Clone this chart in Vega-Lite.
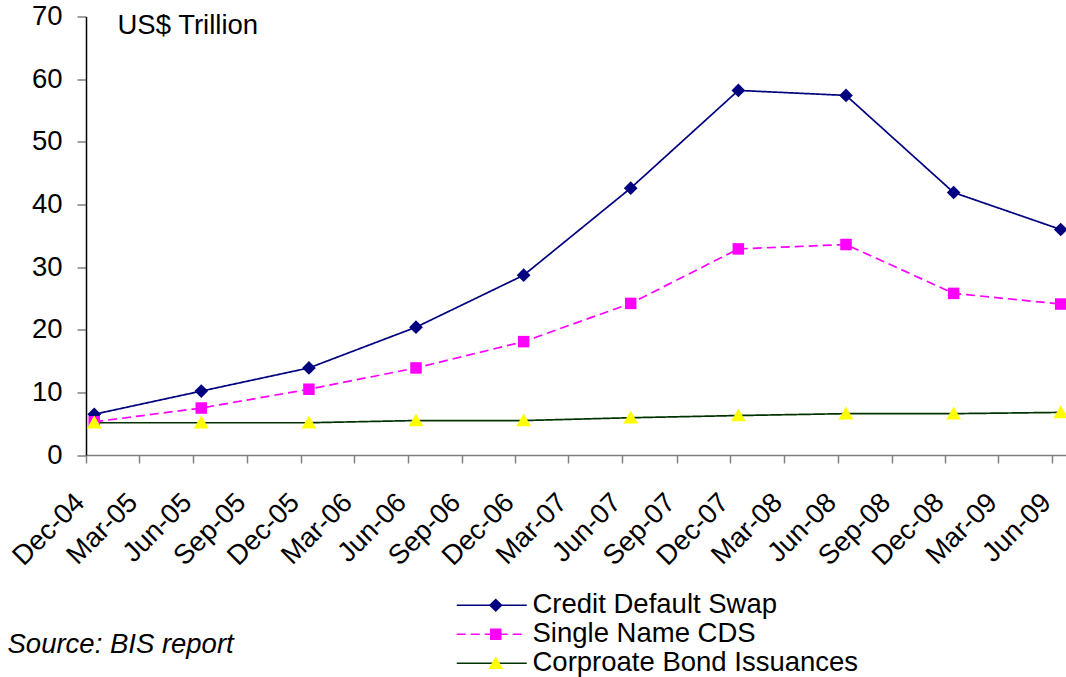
{
  "$schema": "https://vega.github.io/schema/vega-lite/v6.json",
  "width": 980,
  "height": 438.5,
  "autosize": "none",
  "padding": {"left": 86, "top": 16.5, "right": 0, "bottom": 222},
  "background": "white",
  "config": {"view": {"stroke": null}, "font": "Liberation Sans"},
  "data": {"values": [
    {"date": "2004-12-15", "series": "Credit Default Swap", "value": 6.5},
    {"date": "2005-06-15", "series": "Credit Default Swap", "value": 10.2},
    {"date": "2005-12-15", "series": "Credit Default Swap", "value": 13.9},
    {"date": "2006-06-15", "series": "Credit Default Swap", "value": 20.4},
    {"date": "2006-12-15", "series": "Credit Default Swap", "value": 28.7},
    {"date": "2007-06-15", "series": "Credit Default Swap", "value": 42.6},
    {"date": "2007-12-15", "series": "Credit Default Swap", "value": 58.2},
    {"date": "2008-06-15", "series": "Credit Default Swap", "value": 57.4},
    {"date": "2008-12-15", "series": "Credit Default Swap", "value": 41.9},
    {"date": "2009-06-15", "series": "Credit Default Swap", "value": 36.0},
    {"date": "2004-12-15", "series": "Single Name CDS", "value": 5.3},
    {"date": "2005-06-15", "series": "Single Name CDS", "value": 7.5},
    {"date": "2005-12-15", "series": "Single Name CDS", "value": 10.5},
    {"date": "2006-06-15", "series": "Single Name CDS", "value": 13.9},
    {"date": "2006-12-15", "series": "Single Name CDS", "value": 18.1},
    {"date": "2007-06-15", "series": "Single Name CDS", "value": 24.2},
    {"date": "2007-12-15", "series": "Single Name CDS", "value": 32.9},
    {"date": "2008-06-15", "series": "Single Name CDS", "value": 33.6},
    {"date": "2008-12-15", "series": "Single Name CDS", "value": 25.8},
    {"date": "2009-06-15", "series": "Single Name CDS", "value": 24.1},
    {"date": "2004-12-15", "series": "Corproate Bond Issuances", "value": 5.15},
    {"date": "2005-06-15", "series": "Corproate Bond Issuances", "value": 5.15},
    {"date": "2005-12-15", "series": "Corproate Bond Issuances", "value": 5.15},
    {"date": "2006-06-15", "series": "Corproate Bond Issuances", "value": 5.5},
    {"date": "2006-12-15", "series": "Corproate Bond Issuances", "value": 5.5},
    {"date": "2007-06-15", "series": "Corproate Bond Issuances", "value": 5.95},
    {"date": "2007-12-15", "series": "Corproate Bond Issuances", "value": 6.3},
    {"date": "2008-06-15", "series": "Corproate Bond Issuances", "value": 6.6},
    {"date": "2008-12-15", "series": "Corproate Bond Issuances", "value": 6.6},
    {"date": "2009-06-15", "series": "Corproate Bond Issuances", "value": 6.8}
  ]},
  "encoding": {
    "x": {
      "field": "date", "type": "temporal",
      "scale": {"type": "utc", "domain": [
        {"year": 2004, "month": 12, "date": 1, "utc": true},
        {"year": 2009, "month": 6, "date": 24, "utc": true}
      ]},
      "axis": {
        "values": [
          {"year": 2004, "month": 12, "date": 1, "utc": true},
          {"year": 2005, "month": 3, "date": 1, "utc": true},
          {"year": 2005, "month": 6, "date": 1, "utc": true},
          {"year": 2005, "month": 9, "date": 1, "utc": true},
          {"year": 2005, "month": 12, "date": 1, "utc": true},
          {"year": 2006, "month": 3, "date": 1, "utc": true},
          {"year": 2006, "month": 6, "date": 1, "utc": true},
          {"year": 2006, "month": 9, "date": 1, "utc": true},
          {"year": 2006, "month": 12, "date": 1, "utc": true},
          {"year": 2007, "month": 3, "date": 1, "utc": true},
          {"year": 2007, "month": 6, "date": 1, "utc": true},
          {"year": 2007, "month": 9, "date": 1, "utc": true},
          {"year": 2007, "month": 12, "date": 1, "utc": true},
          {"year": 2008, "month": 3, "date": 1, "utc": true},
          {"year": 2008, "month": 6, "date": 1, "utc": true},
          {"year": 2008, "month": 9, "date": 1, "utc": true},
          {"year": 2008, "month": 12, "date": 1, "utc": true},
          {"year": 2009, "month": 3, "date": 1, "utc": true},
          {"year": 2009, "month": 6, "date": 1, "utc": true}
        ],
        "format": "%b-%y",
        "labelAngle": -45,
        "labelAlign": "right",
        "labelBaseline": "middle",
        "labelFontSize": 27.5,
        "labelColor": "black",
        "labelPadding": 35,
        "labelOffset": -6,
        "labelOverlap": false,
        "labelFlush": false,
        "tickSize": 8,
        "tickColor": "#808080",
        "tickWidth": 1.5,
        "domainColor": "#808080",
        "domainWidth": 1.5,
        "grid": false,
        "title": "Source: BIS report",
        "titleFontSize": 27.5,
        "titleFontStyle": "italic",
        "titleFontWeight": "normal",
        "titleColor": "black",
        "titleAnchor": "start",
        "titleAlign": "left",
        "titleBaseline": "alphabetic",
        "titleX": -79,
        "titleY": 197
      }
    },
    "y": {
      "field": "value", "type": "quantitative",
      "scale": {"domain": [0, 70], "nice": false},
      "axis": {
        "values": [0, 10, 20, 30, 40, 50, 60, 70],
        "labelFontSize": 27.5,
        "labelColor": "black",
        "labelPadding": 15,
        "tickSize": 9,
        "tickColor": "#808080",
        "tickWidth": 1.5,
        "domainColor": "black",
        "domainWidth": 1.5,
        "grid": false,
        "title": "US$ Trillion",
        "titleAngle": 0,
        "titleFontSize": 27.5,
        "titleFontWeight": "normal",
        "titleColor": "black",
        "titleAlign": "left",
        "titleBaseline": "alphabetic",
        "titleX": 31,
        "titleY": 17
      }
    }
  },
  "layer": [
    {
      "mark": {"type": "line", "strokeWidth": 1.7},
      "encoding": {
        "stroke": {
          "field": "series", "type": "nominal",
          "scale": {"domain": ["Credit Default Swap", "Single Name CDS", "Corproate Bond Issuances"], "range": ["#000080", "#FF00FF", "#003300"]},
          "legend": {
            "orient": "none", "legendX": 367, "legendY": 575, "title": null, "direction": "vertical", "padding": 0,
            "labelFontSize": 27.5, "labelColor": "black", "labelLimit": 600,
            "symbolType": "M-1,0H6", "symbolSize": 400, "symbolStrokeWidth": 1.7,
            "labelOffset": 52, "rowPadding": 0
          }
        },
        "strokeDash": {
          "field": "series", "type": "nominal",
          "scale": {"domain": ["Credit Default Swap", "Single Name CDS", "Corproate Bond Issuances"], "range": [[1, 0], [9, 5], [1, 0]]},
          "legend": {
            "orient": "none", "legendX": 367, "legendY": 575, "title": null, "direction": "vertical", "padding": 0,
            "labelFontSize": 27.5, "labelColor": "black", "labelLimit": 600,
            "symbolType": "M-1,0H6", "symbolSize": 400, "symbolStrokeWidth": 1.7,
            "labelOffset": 52, "rowPadding": 0
          }
        }
      }
    },
    {
      "mark": {"type": "point", "filled": true, "opacity": 1, "strokeWidth": 0, "size": 120},
      "encoding": {
        "fill": {
          "field": "series", "type": "nominal",
          "scale": {"domain": ["Corproate Bond Issuances", "Credit Default Swap", "Single Name CDS"], "range": ["#FFFF00", "#000080", "#FF00FF"]},
          "legend": {
            "orient": "none", "legendX": 396, "legendY": 575, "title": null, "direction": "vertical", "padding": 0,
            "labelFontSize": 27.5, "labelExpr": "' '", "labelLimit": 600,
            "symbolSize": 120, "symbolStrokeWidth": 0, "symbolOpacity": 1, "rowPadding": 0,
            "values": ["Credit Default Swap", "Single Name CDS", "Corproate Bond Issuances"]
          }
        },
        "shape": {
          "field": "series", "type": "nominal",
          "scale": {"domain": ["Corproate Bond Issuances", "Credit Default Swap", "Single Name CDS"], "range": ["M0,-1.3L1.35,1.05H-1.35Z", "M0,-1.25L1.25,0L0,1.25L-1.25,0Z", "M-1.05,-1.05H1.05V1.05H-1.05Z"]},
          "legend": {
            "orient": "none", "legendX": 396, "legendY": 575, "title": null, "direction": "vertical", "padding": 0,
            "labelFontSize": 27.5, "labelExpr": "' '", "labelLimit": 600,
            "symbolSize": 120, "symbolStrokeWidth": 0, "symbolOpacity": 1, "rowPadding": 0,
            "values": ["Credit Default Swap", "Single Name CDS", "Corproate Bond Issuances"]
          }
        }
      }
    }
  ]
}
